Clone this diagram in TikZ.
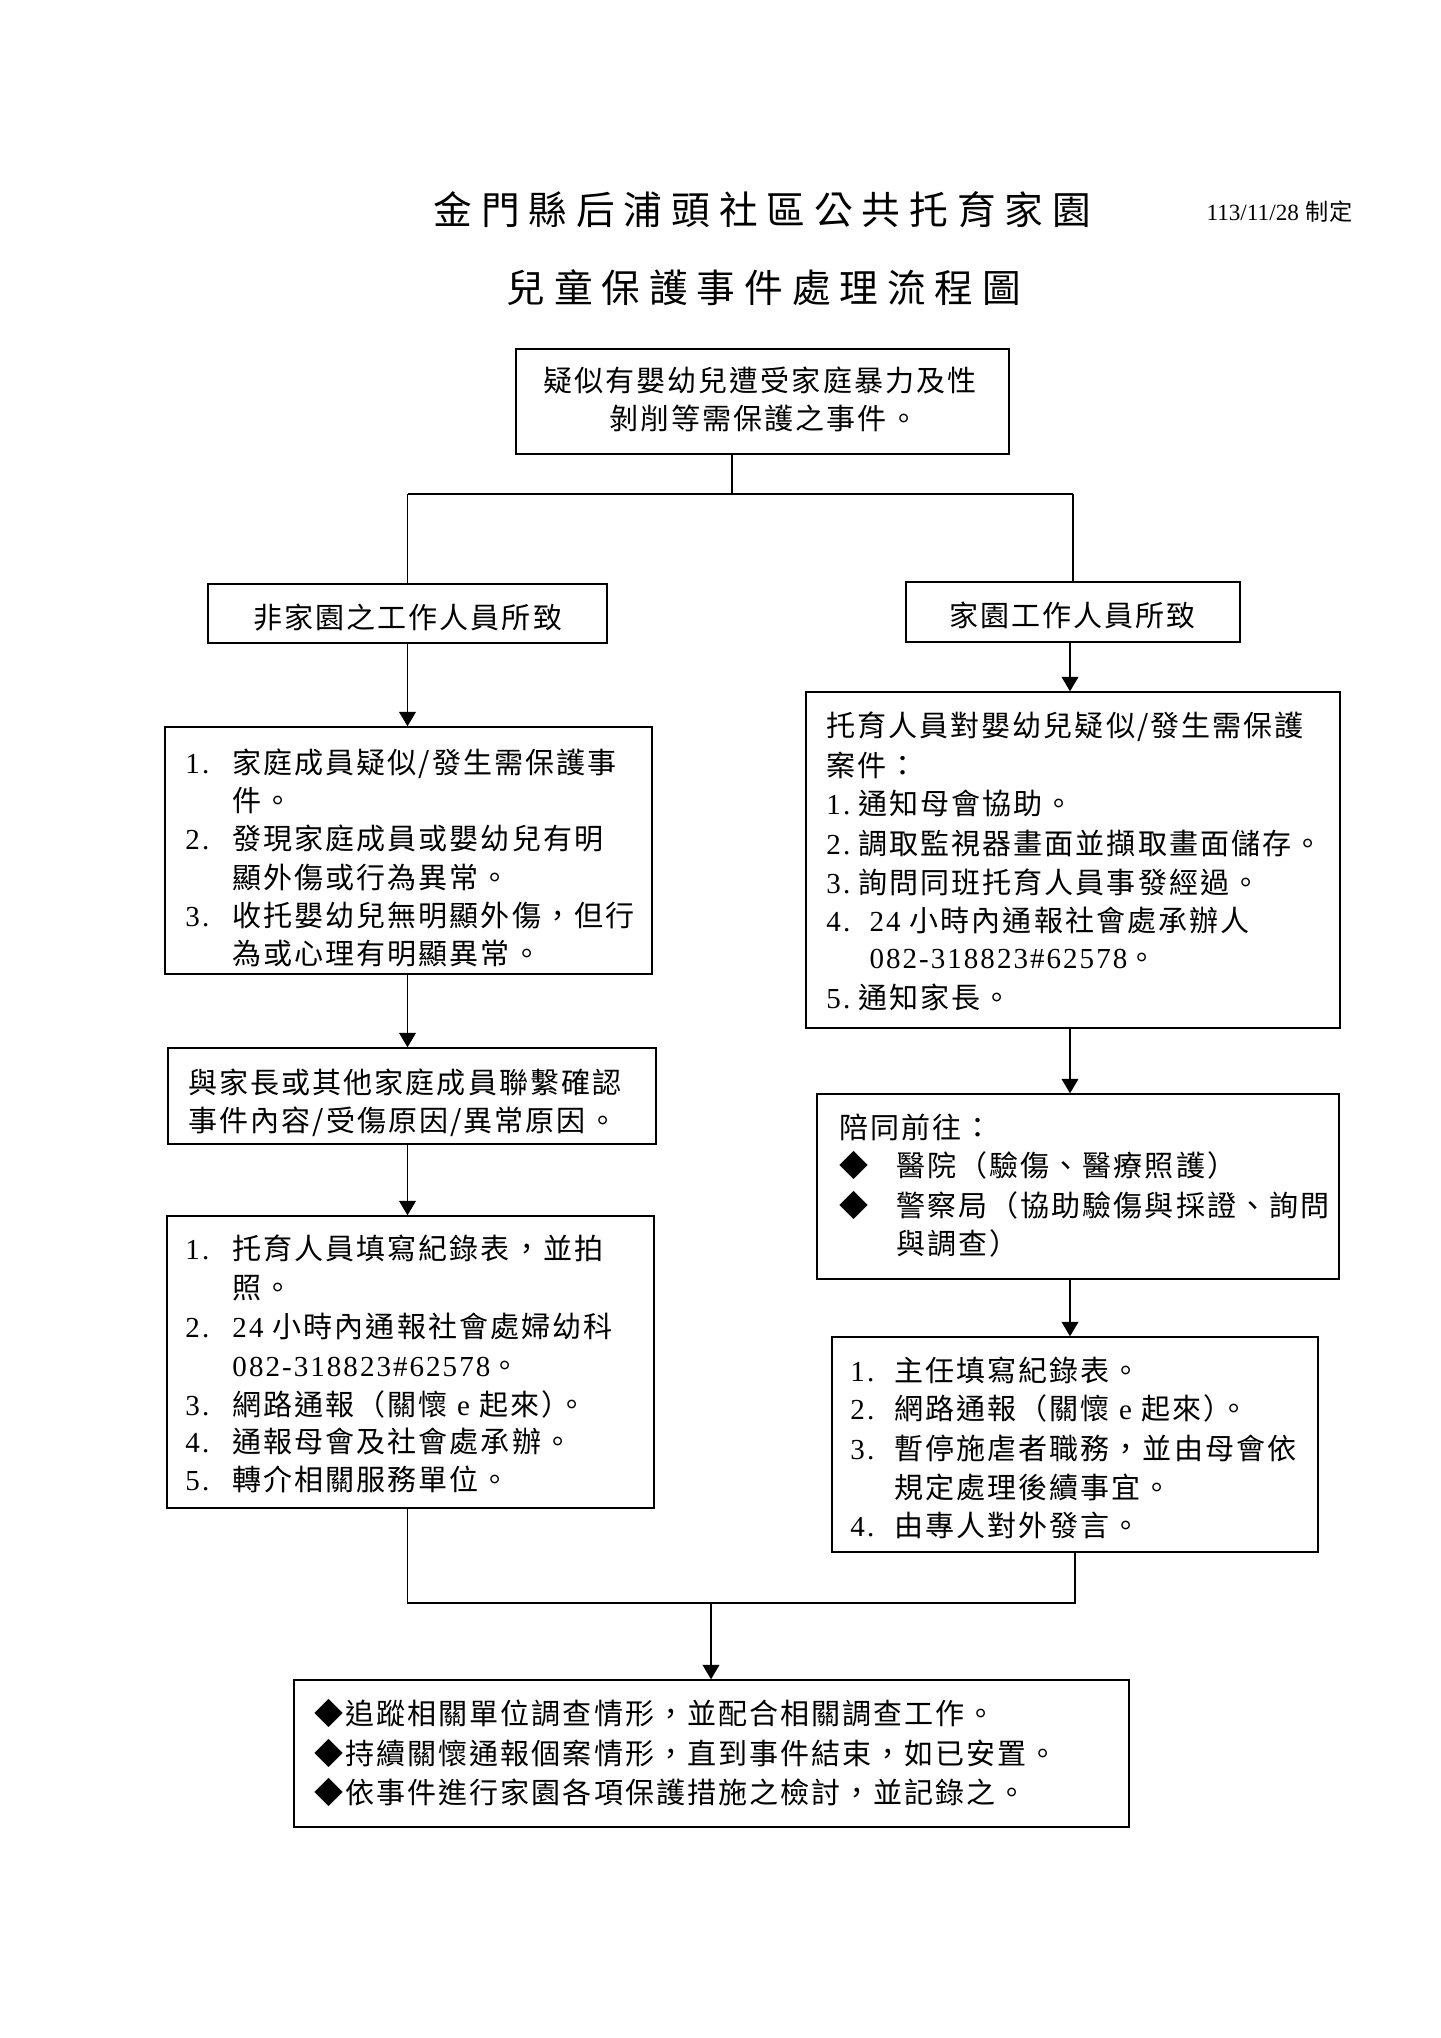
\documentclass[tikz,border=0pt]{standalone}
\usepackage{fontspec}
\setmainfont{Noto Sans CJK TC}[LetterSpace=7]
\newfontfamily\latf{Liberation Serif}[LetterSpace=7]
\newfontfamily\ttlf{Noto Sans CJK TC}[LetterSpace=23]
\newfontfamily\plainlat{Liberation Serif}
\newfontfamily\plaincjk{Noto Sans CJK TC}
\newcommand\latn[1]{{\latf #1}}
\usetikzlibrary{arrows.meta,fit}
\begin{document}
\begin{tikzpicture}[x=0.41341pt,y=-0.41341pt,
  box/.style={draw,line width=0.6pt,inner sep=0pt},
  txt/.style={anchor=base west,inner sep=0pt,font=\fontsize{12}{14}\selectfont},
  ttl/.style={anchor=base west,inner sep=0pt,font=\ttlf\fontsize{16}{19}\selectfont},
  conn/.style={line width=0.5pt},
  arr/.style={conn,-{Triangle[length=6pt,width=7pt]}}]
\fill[white] (0,0) rectangle (1440,2038);
\useasboundingbox (0,0) rectangle (1440,2038);

% titles
\node[ttl] (t1) at (433,225) {金門縣后浦頭社區公共托育家園};
\node[ttl] (t2) at (506,303) {兒童保護事件處理流程圖};
\node[anchor=base west,inner sep=0pt,font=\fontsize{9.6}{11}\selectfont] (date) at (1206,221) {{\plainlat 113/11/28} {\plaincjk 制定}};

% boxes
\node[box,fit={(516,349) (1009,454)}] (top) {};
\node[box,fit={(208,584) (607,643)}] (L0) {};
\node[box,fit={(906,582) (1240,642)}] (R0) {};
\node[box,fit={(165,727) (652,974)}] (L1) {};
\node[box,fit={(806,692) (1340,1028)}] (R1) {};
\node[box,fit={(168,1048) (656,1144)}] (L2) {};
\node[box,fit={(817,1094) (1339,1279)}] (R2) {};
\node[box,fit={(167,1216) (654,1508)}] (L3) {};
\node[box,fit={(832,1337) (1318,1552)}] (R3) {};
\node[box,fit={(294,1680) (1129,1827)}] (B) {};

% top box text
\node[txt] (a1) at (543,392) {疑似有嬰幼兒遭受家庭暴力及性};
\node[txt] (a2) at (609,430) {剝削等需保護之事件。};

\node[txt] (l0) at (253,628) {非家園之工作人員所致};
\node[txt] (r0) at (949,627) {家園工作人員所致};

% L1
\node[txt] (l1n1) at (185,773) {\latn{1.}};
\node[txt] (l1a) at (232,773) {家庭成員疑似/發生需保護事};
\node[txt] (l1b) at (232,811) {件。};
\node[txt] (l1n2) at (185,849) {\latn{2.}};
\node[txt] (l1c) at (232,849) {發現家庭成員或嬰幼兒有明};
\node[txt] (l1d) at (232,888) {顯外傷或行為異常。};
\node[txt] (l1n3) at (185,926) {\latn{3.}};
\node[txt] (l1e) at (232,926) {收托嬰幼兒無明顯外傷，但行};
\node[txt] (l1f) at (232,964) {為或心理有明顯異常。};

% L2
\node[txt] (l2a) at (188,1093) {與家長或其他家庭成員聯繫確認};
\node[txt] (l2b) at (188,1131) {事件內容/受傷原因/異常原因。};

% L3
\node[txt] (l3n1) at (185,1259) {\latn{1.}};
\node[txt] (l3a) at (232,1259) {托育人員填寫紀錄表，並拍};
\node[txt] (l3b) at (232,1298) {照。};
\node[txt] (l3n2) at (185,1337) {\latn{2.}};
\node[txt] (l3c) at (232,1337) {\latn{24 }小時內通報社會處婦幼科};
\node[txt] (l3d) at (232,1376) {\latn{082-318823\#62578}。};
\node[txt] (l3n3) at (185,1415) {\latn{3.}};
\node[txt] (l3e) at (232,1415) {網路通報（關懷\latn{ e }起來）\kern-0.45em。};
\node[txt] (l3n4) at (185,1452) {\latn{4.}};
\node[txt] (l3f) at (232,1452) {通報母會及社會處承辦。};
\node[txt] (l3n5) at (185,1490) {\latn{5.}};
\node[txt] (l3g) at (232,1490) {轉介相關服務單位。};

% R1
\node[txt] (r1a) at (826,736) {托育人員對嬰幼兒疑似/發生需保護};
\node[txt] (r1b) at (826,776) {案件：};
\node[txt] (r1n1) at (826,814) {\latn{1.}};
\node[txt] (r1c) at (858,814) {通知母會協助。};
\node[txt] (r1n2) at (826,854) {\latn{2.}};
\node[txt] (r1d) at (858,854) {調取監視器畫面並擷取畫面儲存。};
\node[txt] (r1n3) at (826,893) {\latn{3.}};
\node[txt] (r1e) at (858,893) {詢問同班托育人員事發經過。};
\node[txt] (r1n4) at (826,931) {\latn{4.}};
\node[txt] (r1f) at (869,931) {\latn{24 }小時內通報社會處承辦人};
\node[txt] (r1g) at (869,968) {\latn{082-318823\#62578}。};
\node[txt] (r1n5) at (826,1008) {\latn{5.}};
\node[txt] (r1h) at (858,1008) {通知家長。};

% R2
\node[txt] (r2a) at (839,1138) {陪同前往：};
\node[txt] (r2d1) at (839,1176) {◆};
\node[txt] (r2b) at (896,1176) {醫院（驗傷、醫療照護）};
\node[txt] (r2d2) at (839,1216) {◆};
\node[txt] (r2c) at (896,1216) {警察局（協助驗傷與採證、詢問};
\node[txt] (r2e) at (896,1254) {與調查）};

% R3
\node[txt] (r3n1) at (850,1381) {\latn{1.}};
\node[txt] (r3a) at (894,1381) {主任填寫紀錄表。};
\node[txt] (r3n2) at (850,1419) {\latn{2.}};
\node[txt] (r3b) at (894,1419) {網路通報（關懷\latn{ e }起來）\kern-0.45em。};
\node[txt] (r3n3) at (850,1459) {\latn{3.}};
\node[txt] (r3c) at (894,1459) {暫停施虐者職務，並由母會依};
\node[txt] (r3d) at (894,1498) {規定處理後續事宜。};
\node[txt] (r3n4) at (850,1536) {\latn{4.}};
\node[txt] (r3e) at (894,1536) {由專人對外發言。};

% bottom
\node[txt] (b1) at (314,1724) {◆追蹤相關單位調查情形，並配合相關調查工作。};
\node[txt] (b2) at (314,1764) {◆持續關懷通報個案情形，直到事件結束，如已安置。};
\node[txt] (b3) at (314,1803) {◆依事件進行家園各項保護措施之檢討，並記錄之。};

% connectors
\coordinate (jt) at (732,494);
\coordinate (jl) at (L0.north |- jt);
\coordinate (jr) at (R0.north |- jt);
\draw[conn] (top.south -| jt) -- (jt);
\draw[conn] (jl) -- (jr);
\draw[conn] (jl) -- (L0.north);
\draw[conn] (jr) -- (R0.north);
\draw[arr] (L0.south) -- (L0.south |- L1.north);
\draw[arr] (L0.south |- L1.south) -- (L0.south |- L2.north);
\draw[arr] (L0.south |- L2.south) -- (L0.south |- L3.north);
\coordinate (xr) at (1070,0);
\draw[arr] (R0.south -| xr) -- (R1.north -| xr);
\draw[arr] (R1.south -| xr) -- (R2.north -| xr);
\draw[arr] (R2.south -| xr) -- (R3.north -| xr);
\coordinate (jb) at (711,1603);
\draw[conn] (L3.south -| jl) -- (jl |- jb) -- (R3.south |- jb) -- (R3.south);
\draw[arr] (jb) -- (B.north -| jb);
\end{tikzpicture}
\end{document}
